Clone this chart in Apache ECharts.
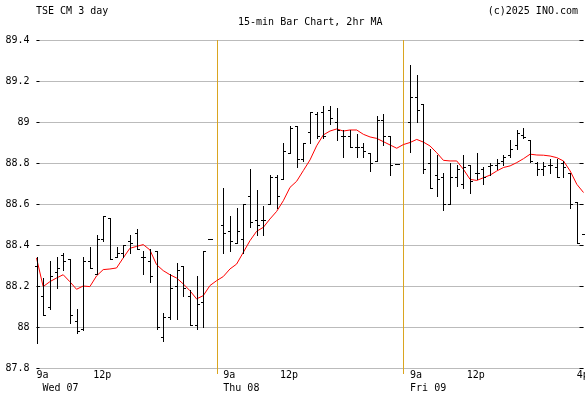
<!DOCTYPE html>
<html>
<head>
<meta charset="utf-8">
<script src="https://cdn.jsdelivr.net/npm/echarts@6/dist/echarts.min.js"></script>
<style>
html,body{margin:0;padding:0;background:#fff;}
#chart{width:585px;height:394px;}
</style>
</head>
<body>
<div id="chart"></div>
<script>
// ---- data (15-min bars, 27 per day; slot 27 and 55 are day separators) ----
const dayNames = ['Wed 07', 'Thu 08', 'Fri 09'];
const slotsPerDay = 28;

const opens = [
  88.30, 88.15, 88.10, 88.27, 88.35, 88.33, 88.03, 87.99, 88.32, 88.26, 88.43, 88.53, 88.34, 88.36,
  88.42, 88.46, 88.34, 88.32, 88.37, 87.95, 88.05, 88.20, 88.30, 88.15, 88.01, 88.12, 88.43,
  88.50, 88.47, 88.41, 88.43, 88.64, 88.52, 88.52, 88.60, 88.73, 88.72, 88.85, 88.98, 88.82, 88.95,
  89.04, 89.05, 89.06, 89.00, 88.93, 88.93, 88.88, 88.88, 88.85, 88.81, 89.01, 88.93, 88.795,
  89.00, 89.12, 89.09, 88.80, 88.74, 88.73, 88.60, 88.73, 88.70, 88.79, 88.75, 88.77, 88.785, 88.79,
  88.81, 88.84, 88.89, 88.935, 88.91, 88.80, 88.77, 88.79, 88.78, 88.80, 88.75, 88.61, 88.455
];
const highs = [
  88.34, 88.24, 88.32, 88.34, 88.36, 88.33, 88.09, 88.34, 88.39, 88.45, 88.54, 88.53, 88.39, 88.40,
  88.45, 88.48, 88.37, 88.38, 88.37, 88.07, 88.26, 88.31, 88.30, 88.18, 88.25, 88.37, 88.43,
  88.68, 88.54, 88.58, 88.60, 88.77, 88.67, 88.59, 88.74, 88.74, 88.90, 88.98, 88.98, 88.90, 89.05,
  89.05, 89.08, 89.08, 89.07, 88.96, 88.96, 88.94, 88.90, 88.85, 89.03, 89.04, 88.93, 88.795,
  89.28, 89.23, 89.09, 88.87, 88.84, 88.75, 88.80, 88.79, 88.84, 88.79, 88.85, 88.78, 88.80, 88.82,
  88.84, 88.91, 88.96, 88.97, 88.91, 88.805, 88.805, 88.82, 88.82, 88.81, 88.75, 88.61, 88.455
];
const lows = [
  87.92, 88.06, 88.09, 88.19, 88.28, 88.02, 87.97, 87.985, 88.29, 88.26, 88.42, 88.33, 88.34, 88.34,
  88.36, 88.38, 88.26, 88.22, 87.99, 87.93, 88.04, 88.04, 88.15, 88.01, 87.99, 88.00, 88.43,
  88.36, 88.37, 88.41, 88.36, 88.49, 88.45, 88.45, 88.60, 88.58, 88.72, 88.85, 88.78, 88.81, 88.90,
  88.92, 88.92, 88.99, 88.91, 88.83, 88.88, 88.83, 88.83, 88.76, 88.81, 88.89, 88.74, 88.795,
  88.855, 89.00, 88.75, 88.68, 88.64, 88.57, 88.60, 88.69, 88.68, 88.655, 88.72, 88.70, 88.74, 88.77,
  88.79, 88.83, 88.87, 88.92, 88.805, 88.74, 88.74, 88.75, 88.73, 88.73, 88.58, 88.41, 88.455
];
const closes = [
  88.20, 88.06, 88.25, 88.29, 88.32, 88.06, 87.98, 88.32, 88.29, 88.43, 88.54, 88.33, 88.36, 88.40,
  88.41, 88.38, 88.34, 88.25, 88.00, 88.05, 88.19, 88.28, 88.19, 88.01, 88.11, 88.37, 88.43,
  88.46, 88.42, 88.47, 88.60, 88.51, 88.50, 88.52, 88.73, 88.64, 88.86, 88.97, 88.82, 88.90, 89.05,
  88.93, 88.93, 89.02, 88.96, 88.93, 88.88, 88.88, 88.86, 88.80, 89.01, 88.93, 88.79, 88.795,
  89.12, 89.06, 88.77, 88.68, 88.72, 88.60, 88.73, 88.77, 88.78, 88.71, 88.75, 88.73, 88.79, 88.80,
  88.83, 88.87, 88.945, 88.925, 88.81, 88.77, 88.785, 88.79, 88.73, 88.78, 88.60, 88.41, 88.455
];
// 2hr moving average, one value per slot (0..82)
const maValues = [
  88.337, 88.197, 88.221, 88.239, 88.255, 88.221, 88.184, 88.200, 88.197, 88.249, 88.280, 88.283, 88.288, 88.337,
  88.384, 88.393, 88.402, 88.376, 88.304, 88.275, 88.255, 88.239, 88.210, 88.177, 88.137, 88.153, 88.202, 88.226,
  88.246, 88.283, 88.307, 88.364, 88.421, 88.467, 88.486, 88.527, 88.564, 88.616, 88.681, 88.711, 88.763, 88.815,
  88.884, 88.937, 88.956, 88.966, 88.956, 88.961, 88.961, 88.940, 88.927, 88.920, 88.904, 88.888, 88.872, 88.890,
  88.900, 88.915, 88.902, 88.883, 88.850, 88.813, 88.810, 88.810, 88.769, 88.720, 88.715, 88.728, 88.741, 88.761,
  88.778, 88.786, 88.802, 88.821, 88.843, 88.839, 88.838, 88.834, 88.826, 88.810, 88.761, 88.696, 88.656
];
const separatorSlots = [27, 55];
const xTickSlots = [0, 8.5, 28, 36.5, 56, 64.5, 81];
const xTickLabels = ['9a\n ' + dayNames[0], '12p', '9a\n' + dayNames[1], '12p', '9a\n' + dayNames[2], '12p', '4p'];
const yMin = 87.8, yMax = 89.4, yStep = 0.2;

// ---- build series data ----
const barsPerDay = 27;
const barData = opens.map((o, i) => {
  const slot = Math.floor(i / barsPerDay) * slotsPerDay + (i % barsPerDay);
  return [slot, o, highs[i], lows[i], closes[i]];
});
const maData = maValues.map((v, i) => [i, v]);

const FONT = 'DejaVu Sans Mono';
const titleStyle = {fontFamily: FONT, fontSize: 10, fontWeight: 'normal', color: '#000'};
const chart = echarts.init(document.getElementById('chart'), null, {renderer: 'canvas'});
chart.setOption({
  animation: false,
  backgroundColor: '#ffffff',
  title: [
    {text: 'TSE CM 3 day', left: 36, top: 6, padding: 0, textStyle: titleStyle},
    {text: '15-min Bar Chart, 2hr MA', left: 238, top: 17, padding: 0, textStyle: titleStyle},
    {text: '(c)2025 INO.com', right: 7, top: 6, padding: 0, textStyle: titleStyle}
  ],
  grid: {left: 36.5, right: 1.5, top: 40, bottom: 26, containLabel: false, outerBoundsMode: 'none'},
  xAxis: {
    type: 'value', min: 0, max: 82, interval: 0.5,
    axisLine: {show: false}, axisTick: {show: false}, splitLine: {show: false},
    axisLabel: {
      show: true, align: 'left', margin: 1, lineHeight: 13,
      fontFamily: FONT, fontSize: 10, color: '#000',
      showMinLabel: true, showMaxLabel: true,
      formatter: function (v) {
        for (let i = 0; i < xTickSlots.length; i++) {
          if (Math.abs(v - xTickSlots[i]) < 1e-6) return xTickLabels[i];
        }
        return '';
      }
    }
  },
  yAxis: [
    {
      type: 'value', min: yMin, max: yMax, interval: yStep, position: 'left',
      axisLine: {show: false},
      axisTick: {show: true, inside: true, length: 3, lineStyle: {color: '#000'}},
      splitLine: {show: true, lineStyle: {color: '#bbbbbb', width: 1}},
      axisLabel: {fontFamily: FONT, fontSize: 10, color: '#000', margin: 7,
        formatter: v => String(parseFloat(v.toFixed(1)))}
    },
    {
      type: 'value', min: yMin, max: yMax, interval: yStep, position: 'right',
      axisLine: {show: false},
      axisTick: {show: true, inside: true, length: 4, lineStyle: {color: '#000'}},
      splitLine: {show: false},
      axisLabel: {show: false}
    }
  ],
  series: [
    {
      type: 'custom', name: 'separators', clip: false, silent: true,
      data: separatorSlots.map(s => [s]),
      renderItem: function (params, api) {
        const top = api.coord([api.value(0), yMax]);
        const bot = api.coord([api.value(0), yMin]);
        const x = Math.round(top[0]) + 0.5;
        return {type: 'line', shape: {x1: x, y1: top[1], x2: x, y2: bot[1] + 6},
          style: {stroke: '#DAA520', lineWidth: 1}};
      }
    },
    {
      type: 'line', name: 'MA', data: maData, showSymbol: false, symbol: 'none',
      lineStyle: {color: '#ff0000', width: 1}, z: 3
    },
    {
      type: 'custom', name: 'bars', data: barData, z: 4,
      renderItem: function (params, api) {
        const x = api.value(0);
        const pH = api.coord([x, api.value(2)]);
        const pL = api.coord([x, api.value(3)]);
        const pO = api.coord([x, api.value(1)]);
        const pC = api.coord([x, api.value(4)]);
        const cx = Math.round(pH[0]) + 0.5;
        const yH = Math.round(pH[1]), yL = Math.round(pL[1]) + 1;
        const yO = Math.round(pO[1]) + 0.5, yC = Math.round(pC[1]) + 0.5;
        const st = {stroke: '#000', lineWidth: 1};
        return {type: 'group', children: [
          {type: 'line', shape: {x1: cx, y1: yH, x2: cx, y2: yL}, style: st},
          {type: 'line', shape: {x1: cx - 2.5, y1: yO, x2: cx - 0.5, y2: yO}, style: st},
          {type: 'line', shape: {x1: cx + 0.5, y1: yC, x2: cx + 2.5, y2: yC}, style: st}
        ]};
      }
    }
  ]
});
</script>
</body>
</html>
